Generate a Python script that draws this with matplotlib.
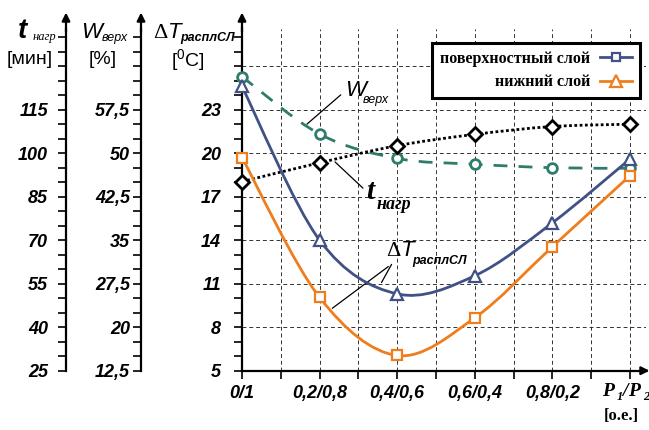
import numpy as np
import matplotlib.pyplot as plt
from matplotlib.path import Path
from matplotlib.patches import PathPatch
from matplotlib.ticker import MultipleLocator
from matplotlib.lines import Line2D

plt.rcParams['mathtext.fontset'] = 'custom'
plt.rcParams['mathtext.rm'] = 'Liberation Sans'
plt.rcParams['mathtext.it'] = 'Liberation Sans:italic'

# P1/P2 power share (x positions) and labels
shares = [0.0, 0.2, 0.4, 0.6, 0.8, 1.0]
share_labels = ['0/1', '0,2/0,8', '0,4/0,6', '0,6/0,4', '0,8/0,2', '']

# melt temperature difference, degC
dT_surface = [24.6, 14.0, 10.3, 11.55, 15.2, 19.6]
dT_bottom = [19.7, 10.05, 6.05, 8.65, 13.55, 18.45]
# upper moisture, %
w_top = [63.2, 53.3, 49.1, 48.1, 47.5, 47.4]
# heating time, min
t_heat = [90.2, 96.7, 102.6, 106.5, 109.2, 110.0]

dT_ticks = [5, 8, 11, 14, 17, 20, 23, 26]
dT_tick_labels = ['5', '8', '11', '14', '17', '20', '23', '']
t_ticks = [25, 40, 55, 70, 85, 100, 115]
w_ticks = [12.5, 20, 27.5, 35, 42.5, 50, 57.5]

BLUE = '#3f5185'
ORANGE = '#f07d1c'
GREEN = '#2f7c6c'

SANS = 'Liberation Sans'
SERIF = 'Liberation Serif'


# heating time / moisture expressed on the dT scale
def t_to_dT(t):
    return 5 + (np.asarray(t) - 25) / 5.0


def dT_to_t(d):
    return 25 + (np.asarray(d) - 5) * 5.0


def w_to_dT(w):
    return 5 + (np.asarray(w) - 12.5) / 2.5


def dT_to_w(d):
    return 12.5 + (np.asarray(d) - 5) * 2.5


# smooth curve through the points (Catmull-Rom as cubic Bezier)
def smooth_path(xs, ys):
    p = np.column_stack([xs, ys]).astype(float)
    ext = np.vstack([p[0], p, p[-1]])
    verts = [p[0]]
    codes = [Path.MOVETO]
    for i in range(len(p) - 1):
        p0, p1, p2, p3 = ext[i], ext[i + 1], ext[i + 2], ext[i + 3]
        verts += [p1 + (p2 - p0) / 6, p2 - (p3 - p1) / 6, p2]
        codes += [Path.CURVE4] * 3
    return Path(verts, codes)


W, H = 649, 430
fig = plt.figure(figsize=(W / 100, H / 100), dpi=100)

x0, x1 = 242, 645.5
y_bot, y_top = 370.7, 28.5
ax = fig.add_axes([x0 / W, 1 - y_bot / H, (x1 - x0) / W, (y_bot - y_top) / H])
ax.set_xlim(0, 1.04)
ax.set_ylim(5, 5 + (y_bot - y_top) / 14.5)

for s in ['top', 'right']:
    ax.spines[s].set_visible(False)
for s in ['left', 'bottom']:
    ax.spines[s].set_linewidth(1.6)

# grid
ax.set_xticks(shares)
ax.set_xticks([0.1, 0.3, 0.5, 0.7, 0.9], minor=True)
ax.set_xticklabels(share_labels, fontfamily=SANS, fontweight='bold',
                   fontstyle='italic', fontsize=13)
ax.set_yticks(dT_ticks)
ax.set_yticklabels(dT_tick_labels, fontfamily=SANS, fontweight='bold',
                   fontstyle='italic', fontsize=13)
ax.yaxis.set_minor_locator(MultipleLocator(1))
ax.tick_params(axis='x', which='both', direction='out', length=6, width=1.2, pad=4)
ax.tick_params(axis='y', which='both', direction='out', length=6, width=1.2, pad=9)
ax.grid(True, axis='x', which='both', color='#333333', lw=0.7, ls=(0, (4, 3)))
ax.grid(True, axis='y', which='major', color='#333333', lw=0.7, ls=(0, (4, 3)))
ax.set_axisbelow(True)

# heating time and moisture axes on the left
sec_t = ax.secondary_yaxis((66 - x0) / (x1 - x0), functions=(dT_to_t, t_to_dT))
sec_w = ax.secondary_yaxis((141 - x0) / (x1 - x0), functions=(dT_to_w, w_to_dT))
for sec, ticks, step, pad in [(sec_t, t_ticks, 5, 7), (sec_w, w_ticks, 2.5, 2)]:
    sec.set_yticks(ticks)
    sec.set_yticklabels([('%g' % v).replace('.', ',') for v in ticks],
                        fontfamily=SANS, fontweight='bold', fontstyle='italic',
                        fontsize=13)
    sec.yaxis.set_minor_locator(MultipleLocator(step))
    sec.tick_params(which='both', direction='out', length=6, width=1.2, pad=pad)
    sec.spines['left'].set_linewidth(1.6)

# arrows on the axes
for xa in [0, (66 - x0) / (x1 - x0), (141 - x0) / (x1 - x0)]:
    ax.annotate('', xy=(xa, 1 + 16 / (y_bot - y_top)), xytext=(xa, 0.99),
                xycoords='axes fraction',
                arrowprops=dict(arrowstyle='-|>', color='k', lw=1.6,
                                mutation_scale=12, shrinkA=0, shrinkB=0))
ax.annotate('', xy=(1 + 4 / (x1 - x0), 0), xytext=(0.99, 0),
            xycoords='axes fraction',
            arrowprops=dict(arrowstyle='-|>', color='k', lw=1.6,
                            mutation_scale=12, shrinkA=0, shrinkB=0))

# curves
ax.add_patch(PathPatch(smooth_path(shares, w_to_dT(w_top)), fill=False,
                       edgecolor=GREEN, lw=2.0, ls=(0, (5, 4)), zorder=3))
ax.add_patch(PathPatch(smooth_path(shares, t_to_dT(t_heat)), fill=False,
                       edgecolor='black', lw=2.0, ls=(0, (1, 0.9)), zorder=3))
ax.add_patch(PathPatch(smooth_path(shares, dT_surface), fill=False,
                       edgecolor=BLUE, lw=2.0, zorder=4))
ax.add_patch(PathPatch(smooth_path(shares, dT_bottom), fill=False,
                       edgecolor=ORANGE, lw=2.0, zorder=4))

ax.plot(shares, w_to_dT(w_top), ls='none', marker='o', ms=7, mfc='white',
        mec=GREEN, mew=2, zorder=5, clip_on=False)
ax.plot(shares, t_to_dT(t_heat), ls='none', marker='D', ms=7.5, mfc='white',
        mec='black', mew=2, zorder=5, clip_on=False)
ax.plot(shares, dT_surface, ls='none', marker='^', ms=8, mfc='white',
        mec=BLUE, mew=1.6, zorder=6, clip_on=False)
ax.plot(shares, dT_bottom, ls='none', marker='s', ms=7, mfc='white',
        mec=ORANGE, mew=1.6, zorder=6, clip_on=False)

# legend
handles = [Line2D([], [], color=BLUE, lw=2, marker='s', ms=6, mfc='white',
                  mec=BLUE, mew=1.6),
           Line2D([], [], color=ORANGE, lw=2, marker='^', ms=8, mfc='white',
                  mec=ORANGE, mew=1.6)]
leg = ax.legend(handles, ['поверхностный слой', 'нижний слой'],
                loc='upper right', bbox_to_anchor=(1.006, 0.981),
                markerfirst=False, handlelength=2.0, handletextpad=0.6,
                borderpad=0.5, labelspacing=0.45, fancybox=False,
                framealpha=1, edgecolor='black',
                prop=dict(family=SERIF, weight='bold', size=11.5))
leg.get_frame().set_linewidth(2.2)
leg.set_zorder(10)

# curve captions with leader lines
ln = dict(color='black', lw=0.9)
ax.annotate('', xy=(0.162, 21.88), xytext=(0.26, 24.15), arrowprops=dict(arrowstyle='-', **ln))
ax.text(0.265, 23.95, 'W', fontfamily=SANS, fontstyle='italic', fontsize=16,
        va='baseline')
ax.text(0.31, 23.45, 'верх', fontfamily=SANS, fontstyle='italic', fontsize=9,
        va='baseline')

ax.annotate('', xy=(0.2345, 19.53), xytext=(0.317, 17.46), arrowprops=dict(arrowstyle='-', **ln))
ax.text(0.32, 16.85, 't', fontfamily=SERIF, fontweight='bold', fontstyle='italic',
        fontsize=21, va='baseline')
ax.text(0.348, 16.15, 'нагр', fontfamily=SERIF, fontweight='bold',
        fontstyle='italic', fontsize=13, va='baseline')

ax.annotate('', xy=(0.356, 10.91), xytext=(0.389, 12.5), arrowprops=dict(arrowstyle='-', **ln))
ax.annotate('', xy=(0.227, 9.19), xytext=(0.383, 12.3), arrowprops=dict(arrowstyle='-', **ln))
ax.text(0.372, 12.9, 'Δ', fontfamily=SERIF, fontsize=16, va='baseline')
ax.text(0.41, 12.9, 'T', fontfamily=SANS, fontstyle='italic', fontsize=16,
        va='baseline')
ax.text(0.44, 12.35, 'расплСЛ', fontfamily=SANS, fontweight='bold',
        fontstyle='italic', fontsize=9, va='baseline')

# P1/P2 label under the last category
pq = dict(transform=ax.transAxes, fontfamily=SERIF, fontweight='bold',
          fontstyle='italic', va='baseline')
ax.text(0.893, -0.074, 'P', fontsize=14, **pq)
ax.text(0.929, -0.087, '1', fontsize=9, **pq)
ax.text(0.943, -0.074, '/', fontsize=14, **pq)
ax.text(0.957, -0.074, 'P', fontsize=14, **pq)
ax.text(0.993, -0.087, '2', fontsize=9, **pq)
ax.text(0.94, -0.143, '[о.е.]', transform=ax.transAxes, fontfamily=SERIF,
        fontweight='bold', fontsize=12, ha='center', va='baseline')


# axis titles in pixel positions
def ftext(x, y, s, **kw):
    fig.text(x / W, 1 - y / H, s, **kw)


ftext(18, 38, 't', fontfamily=SANS, fontweight='bold', fontstyle='italic',
      fontsize=20, va='baseline')
ftext(33, 40, 'нагр', fontfamily=SERIF, fontstyle='italic', fontsize=9,
      va='baseline')
ftext(30, 60, '[мин]', fontfamily=SANS, fontsize=14, ha='center', va='center')

ftext(81, 38, 'W', fontfamily=SANS, fontstyle='italic', fontsize=16,
      va='baseline')
ftext(102, 41, 'верх', fontfamily=SANS, fontstyle='italic', fontsize=9,
      va='baseline')
ftext(103, 60, '[%]', fontfamily=SANS, fontsize=14, ha='center', va='center')

ftext(153, 38, 'Δ', fontfamily=SERIF, fontsize=16, va='baseline')
ftext(168, 38, 'T', fontfamily=SANS, fontstyle='italic', fontsize=16,
      va='baseline')
ftext(180, 41, 'расплСЛ', fontfamily=SANS, fontweight='bold',
      fontstyle='italic', fontsize=9, va='baseline')
ftext(188, 60, '[$^0$C]', fontfamily=SANS, fontsize=14, ha='center', va='center')

fig.savefig('out.png', dpi=100)
